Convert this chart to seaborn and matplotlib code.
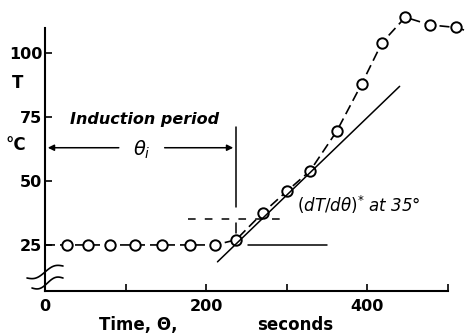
import numpy as np
import pandas as pd
import matplotlib
matplotlib.use("Agg")
import matplotlib.pyplot as plt
import seaborn as sns

# ---- data ----
time_s = [0, 27, 53, 81, 112, 145, 180, 211, 237, 270, 300, 329, 362, 393, 418, 447, 478, 510, 520]
temp_c = [25, 25, 25, 25, 25, 25, 25, 25, 27, 37.5, 46, 54, 69.5, 88, 104, 114, 111, 110, 109]
marker_idx = list(range(1, 18))

tangent_t = [214, 440]
tangent_T = [18.4, 87.0]
baseline_t = [252, 350]
baseline_T = [25, 25]
level35_t = [178, 300]
level35_T = [35, 35]
induction_end = 237

xticks = [0, 100, 200, 300, 400, 500]
xtick_labels = ["0", "", "200", "", "400", ""]
yticks = [25, 50, 75, 100]
ytick_labels = ["25", "50", "75", "100"]

sns.set_theme(style="ticks")
plt.rcParams["font.family"] = ["DejaVu Sans"]
plt.rcParams["mathtext.fontset"] = "dejavusans"
plt.rcParams["text.color"] = "black"

fig = plt.figure(figsize=(4.69, 3.35), dpi=100)
ax = fig.add_axes([45/469, 1-291/335, (448-45)/469, (291-28)/335])

df = pd.DataFrame({"t": time_s, "T": temp_c})
sns.lineplot(data=df, x="t", y="T", ax=ax, sort=False, color="black",
             linestyle=(0, (6, 3)), linewidth=1.2, marker="o", markersize=7.5,
             markerfacecolor="white", markeredgecolor="black", markeredgewidth=1.4,
             markevery=marker_idx, clip_on=False)

ax.plot(tangent_t, tangent_T, color="black", lw=1.1)
ax.plot(baseline_t, baseline_T, color="black", lw=1.1)
ax.plot(level35_t, level35_T, color="black", lw=1.1, linestyle=(0, (5, 6)))
ax.plot([induction_end, induction_end], [39.8, 71], color="black", lw=1.1)
ax.plot([induction_end, induction_end], [29.5, 33.5], color="black", lw=1.1)

# induction period arrows
ax.annotate("", xy=(0, 63), xytext=(95, 63),
            arrowprops=dict(arrowstyle="-|>", color="black", lw=1.1, mutation_scale=9))
ax.annotate("", xy=(induction_end, 63), xytext=(145, 63),
            arrowprops=dict(arrowstyle="-|>", color="black", lw=1.1, mutation_scale=9))
ax.text(120, 62, r"$\theta_i$", fontsize=14, ha="center", va="center", color="black")
ax.text(31, 74, "Induction period", fontsize=11.5, style="italic", weight="bold",
        ha="left", va="center", color="black")
ax.text(313, 40.5, r"$(dT/d\theta)^{*}$" + " at 35°", fontsize=12, style="italic",
        ha="left", va="center", color="black")

ax.set_xlim(0, 500)
ax.set_ylim(7, 109.8)
ax.set_xticks(xticks)
ax.set_xticklabels(xtick_labels, fontsize=11.5, weight="bold")
ax.set_yticks(yticks)
ax.set_yticklabels(ytick_labels, fontsize=11.5, weight="bold")
ax.tick_params(axis="both", direction="in", length=5, width=1.2, colors="black",
               labelcolor="black")
ax.tick_params(axis="x", pad=6)
ax.tick_params(axis="y", pad=2)
ax.set_xlabel("")
ax.set_ylabel("")
for s in ["top", "right"]:
    ax.spines[s].set_visible(False)
for s in ["left", "bottom"]:
    ax.spines[s].set_linewidth(1.5)
    ax.spines[s].set_color("black")

fig.text(18/469, 1-83/335, "T", fontsize=12, weight="bold", ha="center", va="center", color="black")
fig.text(16/469, 1-145/335, "°C", fontsize=12, weight="bold", ha="center", va="center", color="black")
fig.text(138/469, 1-325/335, "Time, Θ,", fontsize=12, weight="bold", ha="center", va="center", color="black")
fig.text(295/469, 1-325/335, "seconds", fontsize=12, weight="bold", ha="center", va="center", color="black")

# axis break marks
u = np.linspace(0, 1, 40)
for (x0, y0, x1, y1) in [(27, 278, 63, 266), (32, 288, 63, 278)]:
    xs = x0 + (x1 - x0) * u
    ys = y0 + (y1 - y0) * u + 3 * np.sin(2 * np.pi * u)
    fig.add_artist(plt.Line2D(xs/469, 1 - ys/335, color="black", lw=1.2))

fig.savefig("out.png", dpi=100)
